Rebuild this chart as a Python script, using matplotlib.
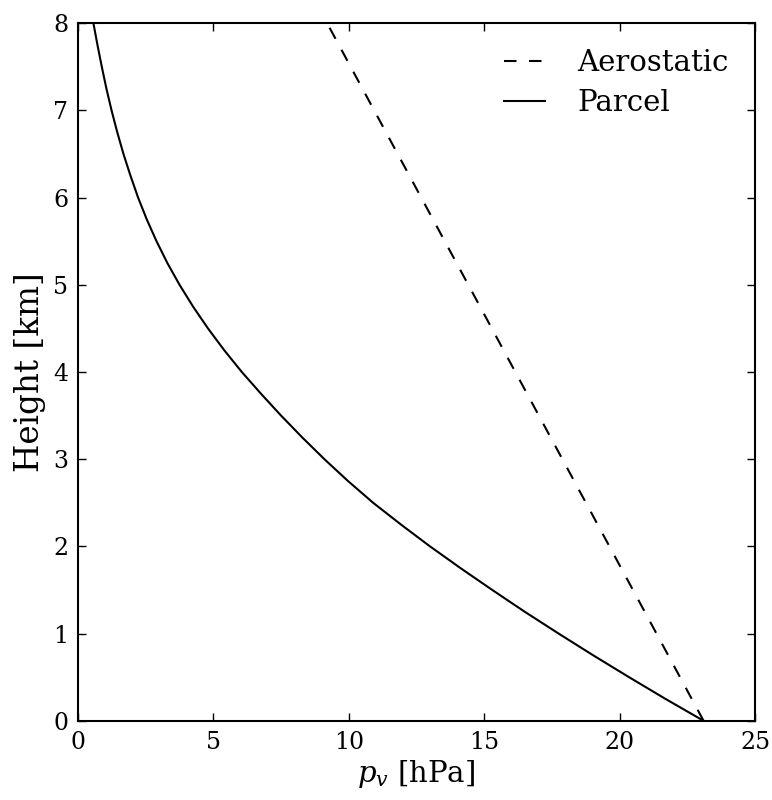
import matplotlib
matplotlib.use("Agg")
import matplotlib.pyplot as plt

# height [km] vs vapour pressure [hPa]
height = [0, 0.25, 0.5, 0.75, 1, 1.25, 1.5, 1.75, 2, 2.25, 2.5, 2.75, 3,
          3.25, 3.5, 3.75, 4, 4.25, 4.5, 4.75, 5, 5.25, 5.5, 5.75, 6,
          6.25, 6.5, 6.75, 7, 7.25, 7.5, 7.75, 8]
pv_parcel = [23.1, 21.7, 20.35, 19.03, 17.75, 16.5, 15.3, 14.13, 13.0,
             11.93, 10.9, 9.97, 9.1, 8.28, 7.5, 6.76, 6.05, 5.4, 4.8,
             4.25, 3.75, 3.3, 2.9, 2.54, 2.22, 1.94, 1.68, 1.45, 1.24,
             1.05, 0.88, 0.72, 0.57]
height_aero = [0, 8]
pv_aero = [23.1, 9.2]

plt.rcParams['font.family'] = 'DejaVu Serif'
plt.rcParams['mathtext.fontset'] = 'dejavuserif'

fig = plt.figure(figsize=(7.72, 8.0), dpi=100)
ax = fig.add_axes([0.101, 0.099, 0.877, 0.872])

ax.plot(pv_aero, height_aero, 'k--', lw=1.5, dashes=(6, 6), label='Aerostatic')
ax.plot(pv_parcel, height, 'k-', lw=1.5, label='Parcel')

ax.set_xlim(0, 25)
ax.set_ylim(0, 8)
ax.set_xticks([0, 5, 10, 15, 20, 25])
ax.set_yticks(range(0, 9))
ax.tick_params(direction='in', top=True, right=True, length=6, width=1,
               labelsize=17, pad=7)
for s in ax.spines.values():
    s.set_linewidth(1.5)

ax.set_xlabel(r'$p_v$ [hPa]', fontsize=21, labelpad=3)
ax.set_ylabel('Height [km]', fontsize=23.5, labelpad=5)
ax.legend(loc='upper right', frameon=False, fontsize=21, handlelength=1.4,
          handletextpad=1.1, labelspacing=0.4, borderaxespad=0.5)

fig.savefig('out.png', dpi=100)
